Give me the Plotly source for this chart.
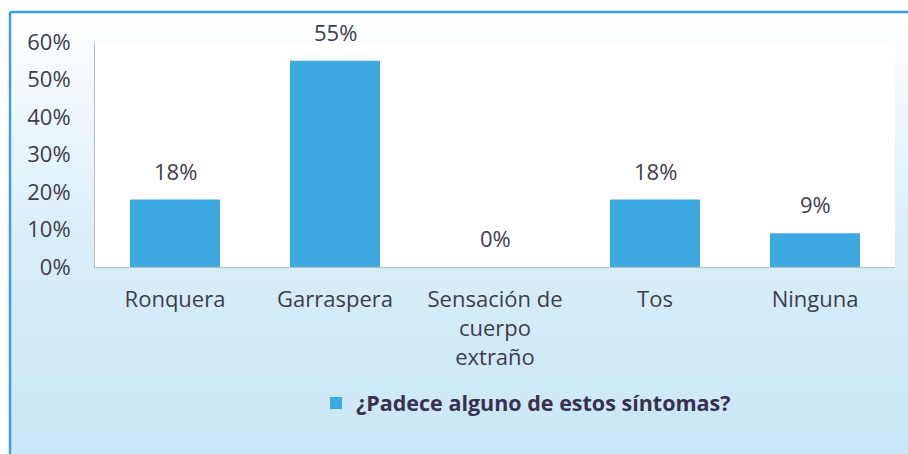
import base64
import plotly.graph_objects as go

categories = ["Ronquera", "Garraspera", "Sensación de<br>cuerpo<br>extraño", "Tos", "Ninguna"]
values = [18, 55, 0, 18, 9]
value_labels = ["18%", "55%", "0%", "18%", "9%"]
series_name = "¿Padece alguno de estos síntomas?"
y_ticks = [0, 10, 20, 30, 40, 50, 60]
y_tick_labels = ["0%", "10%", "20%", "30%", "40%", "50%", "60%"]

W, H = 908, 454
ML, MR, MT, MB = 95, 13, 42, 187
PW, PH = W - ML - MR, H - MT - MB

def px_to_paper_x(px):
    return (px - ML) / PW

def px_to_paper_y(py):
    return (H - MB - py) / PH

FONT = "Open Sans"
TXT = "#3d3d4d"
BAR = "#3ea8e2"
BORDER = "#3a9fe0"
FS = 22

svg = f'''<svg xmlns="http://www.w3.org/2000/svg" width="{W}" height="{H}" viewBox="0 0 {W} {H}" preserveAspectRatio="none">
<defs><linearGradient id="g" x1="0" y1="0" x2="0" y2="1">
<stop offset="0" stop-color="#ffffff"/>
<stop offset="0.5" stop-color="#d9eef9"/>
<stop offset="1" stop-color="#c9e7f7"/>
</linearGradient></defs>
<rect x="0" y="0" width="{W}" height="{H}" fill="url(#g)"/>
</svg>'''
src = "data:image/svg+xml;base64," + base64.b64encode(svg.encode()).decode()

fig = go.Figure()
fig.add_trace(go.Bar(
    x=categories, y=values, name=series_name,
    marker=dict(color=BAR, line=dict(width=0)),
    width=0.5625, showlegend=True,
))

for c, v, t in zip(categories, values, value_labels):
    fig.add_annotation(x=c, y=v, text=t, showarrow=False, yanchor="bottom",
                       yshift=12, font=dict(family=FONT, size=FS, color=TXT))

x0p, y0p = px_to_paper_x(10), px_to_paper_y(12)
x1p, y1p = px_to_paper_x(W + 5), px_to_paper_y(H + 5)

fig.add_layout_image(dict(source=src, xref="paper", yref="paper", x=x0p, y=y0p,
                          sizex=x1p - x0p, sizey=y0p - y1p, sizing="stretch",
                          xanchor="left", yanchor="top", layer="below"))

fig.add_shape(type="rect", xref="paper", yref="paper", x0=0, x1=1, y0=0, y1=1,
              fillcolor="white", line=dict(width=0), layer="below")
fig.add_shape(type="line", xref="paper", yref="paper", x0=x0p, x1=x0p, y0=y0p, y1=y1p,
              line=dict(color=BORDER, width=2.5))
fig.add_shape(type="line", xref="paper", yref="paper", x0=x0p, x1=x1p, y0=y0p, y1=y0p,
              line=dict(color=BORDER, width=2.5))

fig.update_layout(
    width=W, height=H,
    margin=dict(l=ML, r=MR, t=MT, b=MB, pad=0, autoexpand=False),
    paper_bgcolor="white", plot_bgcolor="white",
    font=dict(family=FONT, size=FS, color=TXT),
    bargap=0.4375,
    legend=dict(orientation="h", x=px_to_paper_x(526), xanchor="center",
                y=px_to_paper_y(403), yanchor="middle",
                font=dict(family=FONT, size=21.5, color="#3a3050", weight="bold"),
                bgcolor="rgba(0,0,0,0)", itemwidth=30),
)
fig.update_xaxes(showline=True, linecolor="#bdbdbd", linewidth=1, ticks="",
                 showgrid=False, ticklabelstandoff=13, tickfont=dict(size=FS, color=TXT))
fig.update_yaxes(range=[0, 60], tickvals=y_ticks, ticktext=y_tick_labels,
                 showline=True, linecolor="#bdbdbd", linewidth=1, ticks="",
                 showgrid=False, zeroline=False, ticklabelstandoff=19,
                 tickfont=dict(size=FS, color=TXT))

fig.write_html("out.html", config={"displayModeBar": False},
               post_script="document.body.style.margin='0';")
